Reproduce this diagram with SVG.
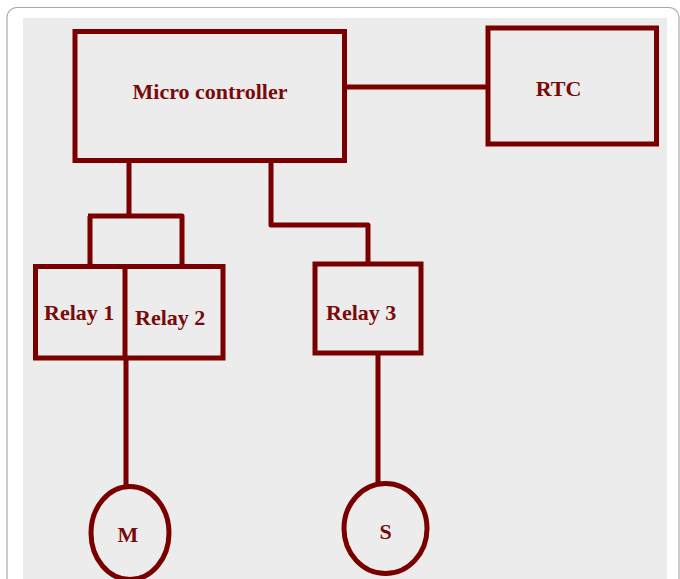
<svg xmlns="http://www.w3.org/2000/svg" width="680" height="579" viewBox="0 0 680 579">
<style>
.box{fill:none;stroke:#7a0000;stroke-width:5}
.wire{fill:none;stroke:#7a0000;stroke-width:5;stroke-linejoin:round}
.lbl{font-family:"Liberation Serif","Times New Roman",serif;font-weight:bold;font-size:22px;fill:#7a0a0a}
</style>
<rect x="0" y="0" width="680" height="579" fill="#ffffff"/>
<rect x="7" y="7.5" width="672" height="620" rx="10" fill="none" stroke="#a8a8a8" stroke-width="1.2"/>
<rect x="23" y="18" width="644" height="570" fill="#ececec"/>
<g id="connectors">
<path class="wire" d="M347 87 H488"/>
<path class="wire" d="M129 163 V216"/>
<path class="wire" d="M88 216 H182 V266"/>
<path class="wire" d="M90 216 V266"/>
<path class="wire" d="M271 163 V225 H368 V266"/>
<path class="wire" d="M126 358 V487"/>
<path class="wire" d="M378 355 V484"/>
</g>
<g id="microcontroller">
<rect class="box" x="75" y="31.5" width="269.5" height="129"/>
<text class="lbl" x="210" y="99" text-anchor="middle">Micro controller</text>
</g>
<g id="rtc">
<rect class="box" x="488" y="28" width="168.5" height="116"/>
<text class="lbl" x="558.5" y="96" text-anchor="middle">RTC</text>
</g>
<g id="relay12">
<rect class="box" x="35.5" y="266.5" width="187.5" height="91.5"/>
<path class="box" d="M125 266.5 V358"/>
<text class="lbl" x="44" y="319.5">Relay 1</text>
<text class="lbl" x="135" y="325">Relay 2</text>
</g>
<g id="relay3">
<rect class="box" x="315" y="264" width="106" height="89"/>
<text class="lbl" x="326" y="319.5">Relay 3</text>
</g>
<g id="motor">
<ellipse class="box" cx="130" cy="533" rx="39" ry="46.5"/>
<text class="lbl" x="128" y="542" text-anchor="middle">M</text>
</g>
<g id="sensor">
<ellipse class="box" cx="385.5" cy="528.5" rx="41.5" ry="45"/>
<text class="lbl" x="385.5" y="539" text-anchor="middle">S</text>
</g>
</svg>
